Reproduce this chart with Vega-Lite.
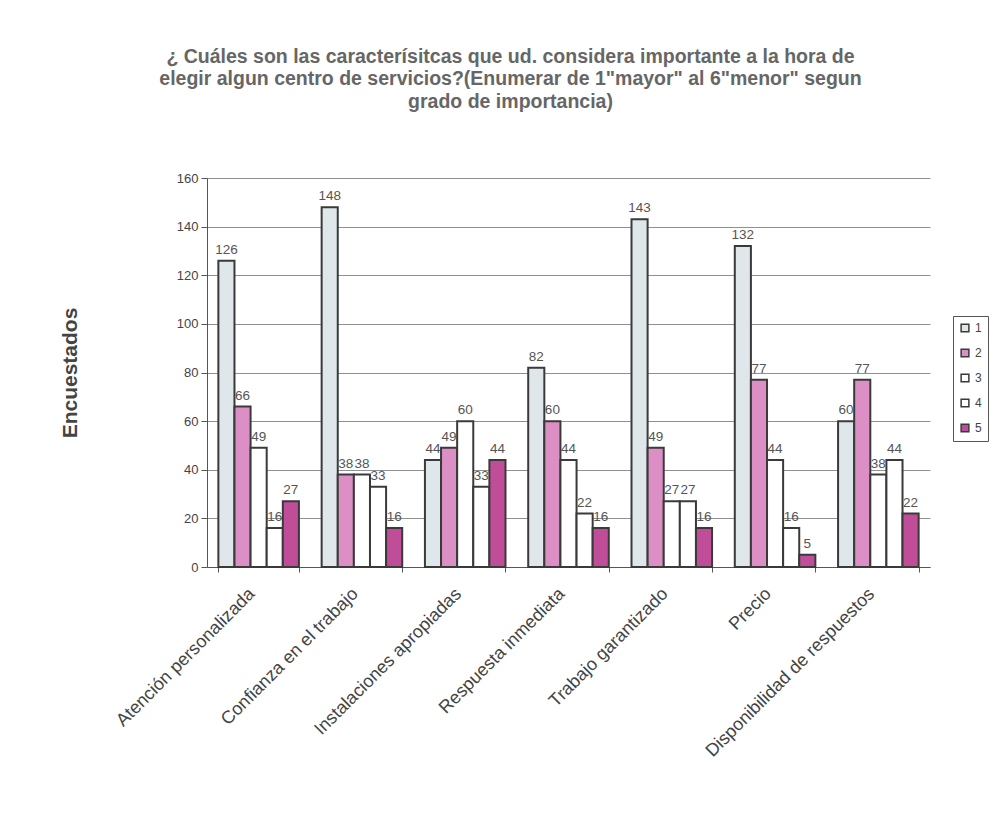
{
  "$schema": "https://vega.github.io/schema/vega-lite/v6.json",
  "autosize": {"type": "none"},
  "width": 723,
  "height": 389,
  "padding": {"left": 207, "top": 178, "right": 72, "bottom": 252},
  "background": "#ffffff",
  "title": {
    "text": ["¿ Cuáles son las caracterísitcas que ud. considera importante a la hora de", "elegir algun centro de servicios?(Enumerar de 1\"mayor\" al 6\"menor\" segun", "grado de importancia)"],
    "anchor": "middle",
    "dx": -58,
    "offset": 60,
    "font": "Liberation Sans",
    "fontSize": 19.5,
    "fontWeight": "bold",
    "color": "#666666",
    "lineHeight": 22.5
  },
  "data": {
    "values": [
      {"cat": "Atención personalizada", "serie": "1", "valor": 126},
      {"cat": "Atención personalizada", "serie": "2", "valor": 66},
      {"cat": "Atención personalizada", "serie": "3", "valor": 49},
      {"cat": "Atención personalizada", "serie": "4", "valor": 16},
      {"cat": "Atención personalizada", "serie": "5", "valor": 27},
      {"cat": "Confianza en el trabajo", "serie": "1", "valor": 148},
      {"cat": "Confianza en el trabajo", "serie": "2", "valor": 38},
      {"cat": "Confianza en el trabajo", "serie": "3", "valor": 38},
      {"cat": "Confianza en el trabajo", "serie": "4", "valor": 33},
      {"cat": "Confianza en el trabajo", "serie": "5", "valor": 16},
      {"cat": "Instalaciones apropiadas", "serie": "1", "valor": 44},
      {"cat": "Instalaciones apropiadas", "serie": "2", "valor": 49},
      {"cat": "Instalaciones apropiadas", "serie": "3", "valor": 60},
      {"cat": "Instalaciones apropiadas", "serie": "4", "valor": 33},
      {"cat": "Instalaciones apropiadas", "serie": "5", "valor": 44},
      {"cat": "Respuesta inmediata", "serie": "1", "valor": 82},
      {"cat": "Respuesta inmediata", "serie": "2", "valor": 60},
      {"cat": "Respuesta inmediata", "serie": "3", "valor": 44},
      {"cat": "Respuesta inmediata", "serie": "4", "valor": 22},
      {"cat": "Respuesta inmediata", "serie": "5", "valor": 16},
      {"cat": "Trabajo garantizado", "serie": "1", "valor": 143},
      {"cat": "Trabajo garantizado", "serie": "2", "valor": 49},
      {"cat": "Trabajo garantizado", "serie": "3", "valor": 27},
      {"cat": "Trabajo garantizado", "serie": "4", "valor": 27},
      {"cat": "Trabajo garantizado", "serie": "5", "valor": 16},
      {"cat": "Precio", "serie": "1", "valor": 132},
      {"cat": "Precio", "serie": "2", "valor": 77},
      {"cat": "Precio", "serie": "3", "valor": 44},
      {"cat": "Precio", "serie": "4", "valor": 16},
      {"cat": "Precio", "serie": "5", "valor": 5},
      {"cat": "Disponibilidad de respuestos", "serie": "1", "valor": 60},
      {"cat": "Disponibilidad de respuestos", "serie": "2", "valor": 77},
      {"cat": "Disponibilidad de respuestos", "serie": "3", "valor": 38},
      {"cat": "Disponibilidad de respuestos", "serie": "4", "valor": 44},
      {"cat": "Disponibilidad de respuestos", "serie": "5", "valor": 22}
    ]
  },
  "encoding": {
    "x": {
      "field": "cat",
      "type": "nominal",
      "sort": null,
      "scale": {"paddingInner": 0.22, "paddingOuter": 0.11},
      "axis": {
        "title": null,
        "labelAngle": -45,
        "labelAlign": "right",
        "labelBaseline": "middle",
        "labelFont": "Liberation Sans",
        "labelFontSize": 18,
        "labelColor": "#444444",
        "labelPadding": 19,
        "labelOffset": -7,
        "tickBand": "extent",
        "tickColor": "#555555",
        "tickSize": 5,
        "domainColor": "#555555",
        "labelLimit": 400
      }
    },
    "xOffset": {"field": "serie", "type": "nominal", "scale": {"paddingInner": 0}},
    "y": {
      "field": "valor",
      "type": "quantitative",
      "scale": {"domain": [0, 160]},
      "axis": {
        "title": "Encuestados",
        "titleFont": "Liberation Sans",
        "titleFontSize": 21,
        "titleFontWeight": "bold",
        "titleColor": "#444444",
        "titlePadding": 96,
        "values": [0, 20, 40, 60, 80, 100, 120, 140, 160],
        "labelFont": "Liberation Sans",
        "labelFontSize": 13,
        "labelColor": "#444444",
        "labelPadding": 3,
        "tickSize": 6,
        "tickColor": "#555555",
        "domainColor": "#555555",
        "gridColor": "#909090",
        "gridWidth": 1
      }
    }
  },
  "layer": [
    {
      "mark": {"type": "bar", "stroke": "#3a3a3a", "strokeWidth": 2},
      "encoding": {
        "fill": {
          "field": "serie",
          "type": "nominal",
          "scale": {"domain": ["1", "2", "3", "4", "5"], "range": ["#dfe7eb", "#dc8fc4", "#ffffff", "#ffffff", "#c04d98"]},
          "legend": {
            "title": null,
            "orient": "none",
            "legendX": 746,
            "legendY": 138,
            "symbolType": "square",
            "symbolSize": 60,
            "symbolStrokeColor": "#3a3a3a",
            "symbolStrokeWidth": 1.5,
            "labelFont": "Liberation Sans",
            "labelFontSize": 12,
            "labelColor": "#444444",
            "rowPadding": 11,
            "padding": 6,
            "strokeColor": "#555555",
            "fillColor": "#ffffff"
          }
        }
      }
    },
    {
      "mark": {"type": "text", "dy": -11, "font": "Liberation Sans", "fontSize": 13.5, "color": "#555555"},
      "encoding": {"text": {"field": "valor", "type": "quantitative"}}
    }
  ],
  "config": {"view": {"stroke": null}}
}
